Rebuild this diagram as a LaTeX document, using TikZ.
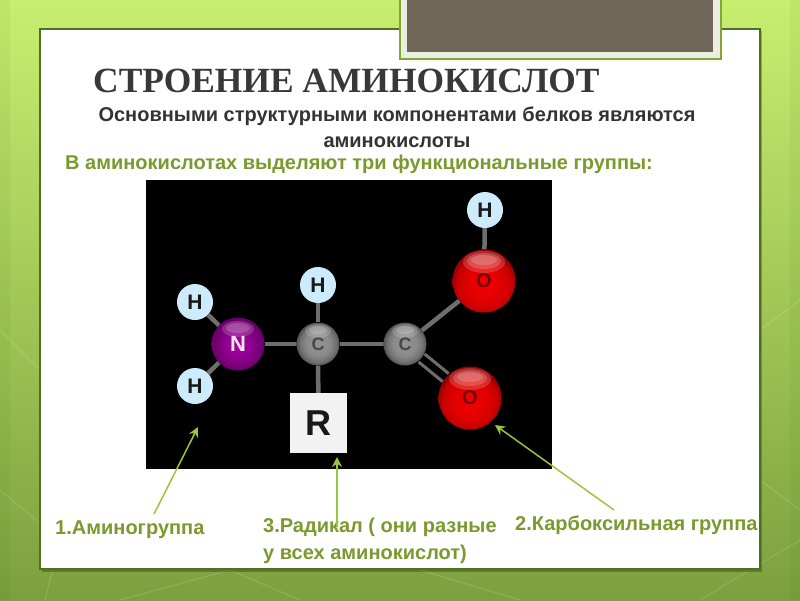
\documentclass[tikz,border=0pt]{standalone}
\usepackage{fontspec}
\setmainfont{Liberation Sans}
\newfontfamily\titlefont{Liberation Serif}
\usetikzlibrary{arrows.meta}
\definecolor{capgreen}{HTML}{7A9A2E}
\definecolor{arrowgreen}{HTML}{9BC53A}
\definecolor{paneledge}{HTML}{4F6F23}
\definecolor{boxfill}{HTML}{6F6658}
\definecolor{boxrim}{HTML}{E9EEE2}
\definecolor{bondgrey}{HTML}{6E6E6E}
\definecolor{hball}{HTML}{CDEBFA}
\pgfdeclareradialshading{redsphere}{\pgfpoint{0bp}{-4bp}}{
  color(0bp)=(red!95!black); color(14bp)=(red!88!black); color(22bp)=(red!78!black);
  color(25bp)=(red!60!black); color(50bp)=(red!45!black)}
\pgfdeclareradialshading{greysphere}{\pgfpoint{0bp}{0bp}}{
  color(0bp)=(black!42); color(14bp)=(black!46); color(21bp)=(black!56);
  color(25bp)=(black!68); color(50bp)=(black!80)}
\pgfdeclareradialshading{purplesphere}{\pgfpoint{0bp}{-2bp}}{
  color(0bp)=(violet!45!magenta!85!black); color(14bp)=(violet!45!magenta!70!black);
  color(25bp)=(violet!50!magenta!55!black); color(50bp)=(violet!50!black)}
\tikzset{
  x=1pt,y=-1pt,
  caption/.style={font=\bfseries\fontsize{20}{27}\selectfont,text=capgreen,anchor=west,inner sep=0pt,align=left},
  bodytext/.style={font=\bfseries\fontsize{20}{26}\selectfont,text=black!80,inner sep=0pt,align=center},
  atomh/.style={circle,minimum size=36,inner sep=0pt,fill=hball,text=black!90,font=\bfseries\fontsize{21}{21}\selectfont},
  atomc/.style={circle,minimum size=43,inner sep=0pt,shading=greysphere},
  atomo/.style={circle,minimum size=63,inner sep=0pt,shading=redsphere},
  oletter/.style={text=black!55!red,font=\bfseries\fontsize{20}{20}\selectfont,inner sep=0pt},
  atomn/.style={circle,minimum size=53,inner sep=0pt,shading=purplesphere},
  nletter/.style={text=white!90!magenta,font=\bfseries\fontsize{22}{22}\selectfont,inner sep=0pt},
  cletter/.style={text=black!72,font=\bfseries\fontsize{18}{18}\selectfont,inner sep=0pt},
  gloss/.style={fill=white,opacity=.17},
  bond/.style={draw=bondgrey,line width=4.5pt},
  pointer/.style={draw=arrowgreen,line width=1.5pt,-{Stealth[length=10pt,width=10pt]}},
  faint/.style={draw=white,opacity=.13,line width=1.2pt}
}
\begin{document}
\begin{tikzpicture}
\useasboundingbox (0,0) rectangle (800,600);
% background
\shade[top color={rgb,255:red,200;green,238;blue,112},middle color={rgb,255:red,148;green,196;blue,70},bottom color={rgb,255:red,124;green,160;blue,62}] (0,0) rectangle (800,600);
\fill[green!40!black,opacity=.05] (0,0) rectangle (10,600);
\fill[green!40!black,opacity=.05] (790,0) rectangle (800,600);
\draw[faint] (0,490) -- (60,540) -- (45,600);
\draw[faint] (120,600) -- (230,570) -- (300,600);
\draw[faint] (230,570) -- (150,535);
\draw[faint] (420,570) -- (520,600);
\draw[faint] (760,480) -- (800,510);
\draw[faint] (700,600) -- (800,540);
\draw[faint] (0,330) -- (40,370);
\draw[faint] (760,330) -- (800,300);
% panel
\fill[black,opacity=.25] (42,31) rectangle (762,572);
\draw[draw=paneledge,line width=1.2pt,fill=white] (40,29) rectangle (760,569);
% top box
\fill[fill=arrowgreen!85!black] (399,-2) rectangle (722,60);
\fill[fill=boxrim] (401,-2) rectangle (720,58);
\fill[fill=boxfill] (407,-2) rectangle (713,52);
% texts
\node[font=\bfseries\fontsize{35.4}{35.4}\selectfont\titlefont,text=black!78,anchor=west,inner sep=0pt] (title) at (93,81) {СТРОЕНИЕ АМИНОКИСЛОТ};
\node[bodytext] (intro) at (397,127.5) {Основными структурными компонентами белков являются\\аминокислоты};
\node[caption] (lead) at (65,164) {В аминокислотах выделяют три функциональные группы:};
% molecule
\fill[black] (146,180) rectangle (552,469);
\node[atomh] (h1) at (485,210) {H};
\node[atomo] (o1) at (484,281) {};
\node[atomh] (h2) at (318,285) {H};
\node[atomc] (c1) at (318,344) {};
\node[atomc] (c2) at (405,344) {};
\node[atomn] (n) at (238,344) {};
\node[atomh] (h3) at (195,302) {H};
\node[atomh] (h4) at (195,386) {H};
\node[atomo] (o2) at (470,398) {};
\node[draw=none,fill=black!5,minimum width=57,minimum height=60,inner sep=0pt,font=\bfseries\fontsize{36}{36}\selectfont,text=black!90] (r) at (318.5,423) {R};
\draw[bond] (h1) -- (o1);
\draw[bond] (o1) -- (c2);
\draw[bond] (h2) -- (c1);
\draw[bond] (c1) -- (c2);
\draw[bond] (n) -- (c1);
\draw[bond] (h3) -- (n);
\draw[bond] (h4) -- (n);
\draw[bond] (c1) -- (r);
\draw[bondgrey,line width=3pt] ([shift={(3,-4)}]c2.-40) -- ([shift={(3,-4)}]o2.140);
\draw[bondgrey,line width=3pt] ([shift={(-3,4)}]c2.-40) -- ([shift={(-3,4)}]o2.140);
% highlights
\foreach \cx/\cy in {484/262,470/379} {
  \fill[gloss] (\cx,\cy) ellipse (21 and 11);
  \fill[gloss] (\cx,\cy-1) ellipse (17 and 8);
  \fill[gloss] (\cx,\cy-2) ellipse (13 and 5);
}
\fill[gloss] (238,329) ellipse (16 and 8);
\fill[gloss] (238,328) ellipse (12 and 5);
\foreach \cx/\cy in {318/331,405/331} {
  \fill[gloss] (\cx,\cy) ellipse (13 and 7);
  \fill[gloss] (\cx,\cy-1) ellipse (9 and 4);
}
\node[oletter] (lo1) at (o1) {O};
\node[oletter] (lo2) at (o2) {O};
\node[nletter] (ln) at (n) {N};
\node[cletter] (lc1) at (c1) {C};
\node[cletter] (lc2) at (c2) {C};
% captions
\node[caption] (cap1) at (55,530) {1.Аминогруппа};
\node[caption] (cap3) at (263,541) {3.Радикал ( они разные\\у всех аминокислот)};
\node[caption] (cap2) at (515,525) {2.Карбоксильная группа};
\coordinate (t1) at (198,427);
\coordinate (s1) at (154,514);
\coordinate (t3) at (337,457);
\coordinate (s3) at (337,527);
\coordinate (t2) at (495,425);
\coordinate (s2) at (614,510);
\draw[pointer] (s1) -- (t1);
\draw[pointer] (s3) -- (t3);
\draw[pointer] (s2) -- (t2);
\end{tikzpicture}
\end{document}
